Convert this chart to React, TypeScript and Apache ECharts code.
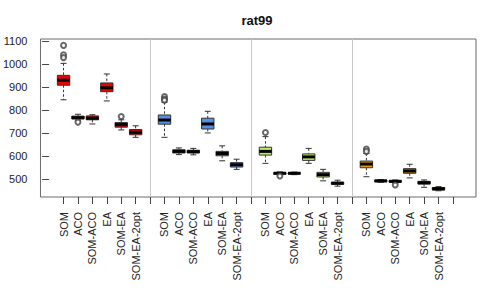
import React, { useEffect, useRef } from "react";
import * as echarts from "echarts";

const chartTitle = "rat99";
const methods = ["SOM", "ACO", "SOM-ACO", "EA", "SOM-EA", "SOM-EA-2opt"];
const groupColors = ["#F20000", "#5A8FE6", "#BDEE68", "#EE9A00"];
const yTickValues = [500, 600, 700, 800, 900, 1000, 1100];
const separatorSlots = [7, 14, 21];
const tickSlots = Array.from({ length: 28 }, (_, i) => i + 1);

// [min, q1, median, q3, max] per method
const group1Stats = [
  [845, 908, 930, 951, 1003],
  [757, 762, 767, 774, 782],
  [740, 758, 765, 775, 780],
  [840, 880, 897, 918, 957],
  [714, 726, 737, 746, 758],
  [682, 693, 704, 716, 732],
];
const group2Stats = [
  [682, 739, 757, 779, 834],
  [607, 614, 621, 628, 636],
  [606, 614, 620, 626, 634],
  [701, 718, 740, 765, 795],
  [580, 602, 612, 621, 645],
  [543, 553, 563, 572, 587],
];
const group3Stats = [
  [569, 605, 621, 639, 685],
  [519, 522, 526, 529, 532],
  [520, 523, 526, 528, 531],
  [569, 582, 597, 610, 634],
  [493, 510, 520, 530, 543],
  [470, 478, 483, 487, 496],
];
const group4Stats = [
  [511, 550, 566, 579, 612],
  [487, 489, 493, 496, 499],
  [484, 487, 491, 494, 497],
  [506, 526, 536, 546, 565],
  [465, 479, 485, 491, 497],
  [450, 453, 459, 464, 468],
];
// [method index, value]
const group1Outliers = [[0, 1081], [0, 1040], [0, 1028], [1, 748], [4, 772]];
const group2Outliers = [[0, 859], [0, 848], [0, 843]];
const group3Outliers = [[0, 703], [1, 514]];
const group4Outliers = [[0, 631], [0, 621], [2, 475]];

const allStats = [group1Stats, group2Stats, group3Stats, group4Stats];
const allOutliers = [group1Outliers, group2Outliers, group3Outliers, group4Outliers];

const slotOf = (g: number, m: number) => g * 7 + m + 1;

export default function App() {
  const ref = useRef<HTMLDivElement>(null);
  useEffect(() => {
    if (!ref.current) return;
    const chart = echarts.init(ref.current, null, { renderer: "svg" });

    const boxData: number[][] = [];
    const labelMap: Record<number, string> = {};
    allStats.forEach((stats, g) =>
      stats.forEach((s, m) => {
        const x = slotOf(g, m);
        boxData.push([x, ...s, g]);
        labelMap[x] = methods[m];
      })
    );
    const outlierData: number[][] = [];
    allOutliers.forEach((list, g) =>
      list.forEach(([m, v]) => outlierData.push([slotOf(g, m), v]))
    );

    const font = "'Liberation Sans', Arial, sans-serif";

    chart.setOption({
      animation: false,
      textStyle: { fontFamily: font },
      title: {
        text: chartTitle,
        left: 257,
        top: 14,
        padding: 0,
        textAlign: "center",
        textStyle: { fontSize: 13, fontWeight: "bold", color: "#111", fontFamily: font },
      },
      grid: {
        left: 39,
        top: 39,
        right: 15,
        bottom: 91,
        show: true,
        borderColor: "#6a6a6a",
        borderWidth: 1,
        backgroundColor: "transparent",
      },
      xAxis: {
        type: "value",
        min: -0.6,
        max: 29.6,
        axisLine: { show: false },
        splitLine: { show: false },
        axisTick: {
          show: true,
          length: 7,
          lineStyle: { color: "#444" },
          customValues: tickSlots,
        },
        axisLabel: {
          show: true,
          rotate: 90,
          margin: 15,
          fontSize: 11,
          fontFamily: font,
          color: "#222",
          customValues: Object.keys(labelMap).map(Number),
          formatter: (v: number) => labelMap[Math.round(v)] || "",
        },
      },
      yAxis: {
        type: "value",
        min: 423,
        max: 1108.7,
        axisLine: { show: false },
        splitLine: { show: false },
        axisTick: {
          show: true,
          length: 7,
          lineStyle: { color: "#444" },
          customValues: yTickValues,
        },
        axisLabel: {
          show: true,
          margin: 13,
          fontSize: 11,
          fontFamily: font,
          color: "#222",
          customValues: yTickValues,
          formatter: (v: number) => String(v),
        },
      },
      series: [
        {
          type: "custom",
          data: boxData,
          encode: { x: 0, y: [1, 2, 3, 4, 5] },
          renderItem: (params: any, api: any) => {
            const x = api.value(0);
            const mn = api.coord([x, api.value(1)]);
            const q1 = api.coord([x, api.value(2)]);
            const md = api.coord([x, api.value(3)]);
            const q3 = api.coord([x, api.value(4)]);
            const mx = api.coord([x, api.value(5)]);
            const color = groupColors[api.value(6)];
            const cx = mn[0];
            const half = 6.2;
            const cap = 3;
            return {
              type: "group",
              children: [
                {
                  type: "line",
                  shape: { x1: cx, y1: mx[1], x2: cx, y2: q3[1] },
                  style: { stroke: "#333", lineWidth: 1, lineDash: [2.5, 2] },
                },
                {
                  type: "line",
                  shape: { x1: cx, y1: q1[1], x2: cx, y2: mn[1] },
                  style: { stroke: "#333", lineWidth: 1, lineDash: [2.5, 2] },
                },
                {
                  type: "line",
                  shape: { x1: cx - cap, y1: mx[1], x2: cx + cap, y2: mx[1] },
                  style: { stroke: "#333", lineWidth: 1 },
                },
                {
                  type: "line",
                  shape: { x1: cx - cap, y1: mn[1], x2: cx + cap, y2: mn[1] },
                  style: { stroke: "#333", lineWidth: 1 },
                },
                {
                  type: "rect",
                  shape: { x: cx - half, y: q3[1], width: half * 2, height: q1[1] - q3[1] },
                  style: { fill: color, stroke: "#333", lineWidth: 1 },
                },
                {
                  type: "line",
                  shape: { x1: cx - half, y1: md[1], x2: cx + half, y2: md[1] },
                  style: { stroke: "#000", lineWidth: 3 },
                },
              ],
            };
          },
          z: 3,
        },
        {
          type: "scatter",
          data: outlierData,
          symbol: "emptyCircle",
          symbolSize: 5,
          itemStyle: { color: "#444", borderColor: "#444", borderWidth: 1 },
          z: 3,
          markLine: {
            silent: true,
            symbol: ["none", "none"],
            label: { show: false },
            lineStyle: { color: "#c8c8c8", width: 1, type: "solid" },
            data: separatorSlots.map((s) => ({ xAxis: s })),
          },
        },
      ],
    });
    return () => chart.dispose();
  }, []);
  return (
    <div
      ref={ref}
      style={{ position: "fixed", left: 0, top: 0, width: 491, height: 288, background: "#fff" }}
    />
  );
}
